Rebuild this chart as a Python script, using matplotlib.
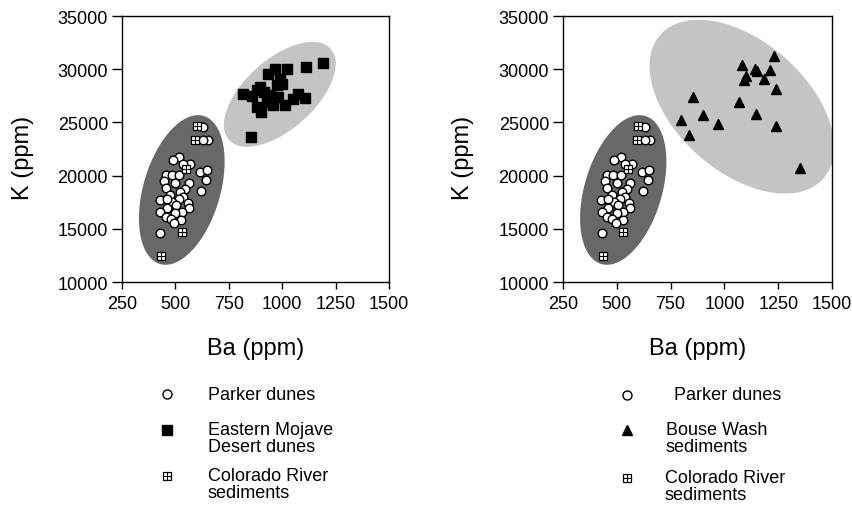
import matplotlib
matplotlib.use('Agg')
import matplotlib.pyplot as plt
from matplotlib.lines import Line2D
import numpy as np

plt.rcParams['font.family'] = ['Liberation Sans', 'DejaVu Sans']

# Parker dunes (same samples in both panels)
parker_ba = [631, 655, 631, 518, 487, 569, 538, 616, 650, 644, 455, 483, 518, 445,
             500, 563, 546, 620, 455, 476, 522, 538, 515, 426, 485, 558, 504, 460,
             429, 563, 530, 500, 455, 480, 527, 495, 429, 460]
parker_k = [24567, 23376, 23376, 21747, 21497, 21058, 21120, 20337, 20494, 19617,
            20024, 20024, 20024, 19460, 19335, 19303, 18771, 18520, 18865, 18144,
            18458, 17988, 17831, 17674, 17518, 17455, 17205, 16955, 16577, 16955,
            16577, 16483, 16107, 15951, 15795, 15576, 14636, 17830]

# Colorado River sediments
colorado_ba = [600, 592, 550, 529, 434]
colorado_k = [24692, 23376, 20650, 14698, 12442]

# Eastern Mojave Desert dunes
mojave_ba = [852, 818, 857, 935, 966, 1024, 1111, 1192, 990, 880, 913, 943, 958,
             982, 927, 880, 903, 958, 1013, 1052, 1075, 1107, 896, 974, 997]
mojave_k = [23627, 27700, 27450, 29580, 30050, 30050, 30200, 30610, 29110, 28010,
            27860, 27540, 27230, 27390, 26920, 26450, 25980, 26600, 26600, 27230,
            27700, 27330, 28330, 28480, 28640]

# Bouse Wash sediments
bouse_ba = [797, 837, 853, 899, 969, 1066, 1082, 1089, 1102, 1141, 1151, 1147,
            1183, 1210, 1230, 1238, 1242, 1351]
bouse_k = [25194, 23784, 27387, 25665, 24818, 26918, 30363, 28953, 29360, 30050,
           29800, 25822, 29110, 29890, 31240, 28170, 24630, 20745]

# field ellipses: centre (Ba, K), semi-axes as fraction of the axis span, angle (deg)
parker_field = [530, 18650, 0.29, 0.144, 73.7]
mojave_field = [989, 27640, 0.256, 0.131, 42]
bouse_field = [1081, 26478, 0.406, 0.244, -42]

xmin, xmax = 250, 1500
ymin, ymax = 10000, 35000
xticks = [250, 500, 750, 1000, 1250, 1500]
yticks = [10000, 15000, 20000, 25000, 30000, 35000]

DARK = '#686868'
LIGHT = '#c4c4c4'


def ellipse(ax, field, color):
    cx, cy, a, b, ang = field
    t = np.linspace(0, 2 * np.pi, 300)
    th = np.radians(ang)
    u = a * np.cos(t) * np.cos(th) - b * np.sin(t) * np.sin(th)
    v = a * np.cos(t) * np.sin(th) + b * np.sin(t) * np.cos(th)
    ax.fill(cx + u * (xmax - xmin), cy + v * (ymax - ymin), color=color,
            lw=0, zorder=1)


def colorado(ax, x, y, ms):
    ax.plot(x, y, 's', ms=ms, mfc='white', mec='black', mew=0.9, zorder=4)
    ax.plot(x, y, '+', ms=ms * 0.95, mec='black', mew=0.8, zorder=5)


def setup(ax):
    ax.set_xlim(xmin, xmax)
    ax.set_ylim(ymin, ymax)
    ax.set_xticks(xticks)
    ax.set_yticks(yticks)
    ax.tick_params(axis='x', length=5, width=1, pad=4, labelsize=13)
    ax.tick_params(axis='y', length=7, width=1, pad=3, labelsize=13)
    for s in ax.spines.values():
        s.set_linewidth(1)
    ax.set_xlabel('Ba (ppm)', fontsize=17)
    ax.set_ylabel('K (ppm)', fontsize=17)
    ax.xaxis.set_label_coords(0.5, -0.205)
    ax.yaxis.set_label_coords(-0.33, 0.47)


fig = plt.figure(figsize=(8.53, 5.06), dpi=100)
ax1 = fig.add_axes([0.143, 0.4407, 0.313, 0.5257])
ax2 = fig.add_axes([0.66, 0.4407, 0.3154, 0.5257])

for ax in (ax1, ax2):
    setup(ax)
    ellipse(ax, parker_field, DARK)
    ax.plot(parker_ba, parker_k, 'o', ms=6.2, mfc='white', mec='black', mew=1,
            zorder=3)
    colorado(ax, colorado_ba, colorado_k, 6)

ellipse(ax1, mojave_field, LIGHT)
ax1.plot(mojave_ba, mojave_k, 's', ms=6.6, color='black', zorder=3)

ellipse(ax2, bouse_field, LIGHT)
ax2.plot(bouse_ba, bouse_k, '^', ms=7.5, color='black', zorder=3)

# legends drawn in figure pixels
W, H = 853, 506


def fpt(x, y):
    return x / W, 1 - y / H


def leg_marker(x, y, **kw):
    fx, fy = fpt(x, y)
    fig.add_artist(Line2D([fx], [fy], transform=fig.transFigure, ls='none', **kw))


def leg_text(x, y, s):
    fx, fy = fpt(x, y)
    fig.text(fx, fy, s, fontsize=13, va='center', ha='left', linespacing=1.0)


leg_marker(167, 395, marker='o', ms=6.5, mfc='white', mec='black', mew=1)
leg_text(208, 395, 'Parker dunes')
leg_marker(167, 431, marker='s', ms=6.5, color='black')
leg_text(208, 439, 'Eastern Mojave\nDesert dunes')
leg_marker(167, 477, marker='s', ms=6, mfc='white', mec='black', mew=0.9)
leg_marker(167, 477, marker='+', ms=5.7, mec='black', mew=0.8)
leg_text(208, 485, 'Colorado River\nsediments')

leg_marker(627, 396, marker='o', ms=6.5, mfc='white', mec='black', mew=1)
leg_text(674, 396, 'Parker dunes')
leg_marker(627, 431, marker='^', ms=7.5, color='black')
leg_text(666, 439, 'Bouse Wash\nsediments')
leg_marker(627, 479, marker='s', ms=6, mfc='white', mec='black', mew=0.9)
leg_marker(627, 479, marker='+', ms=5.7, mec='black', mew=0.8)
leg_text(665, 487, 'Colorado River\nsediments')

fig.savefig('out.png', dpi=100)
